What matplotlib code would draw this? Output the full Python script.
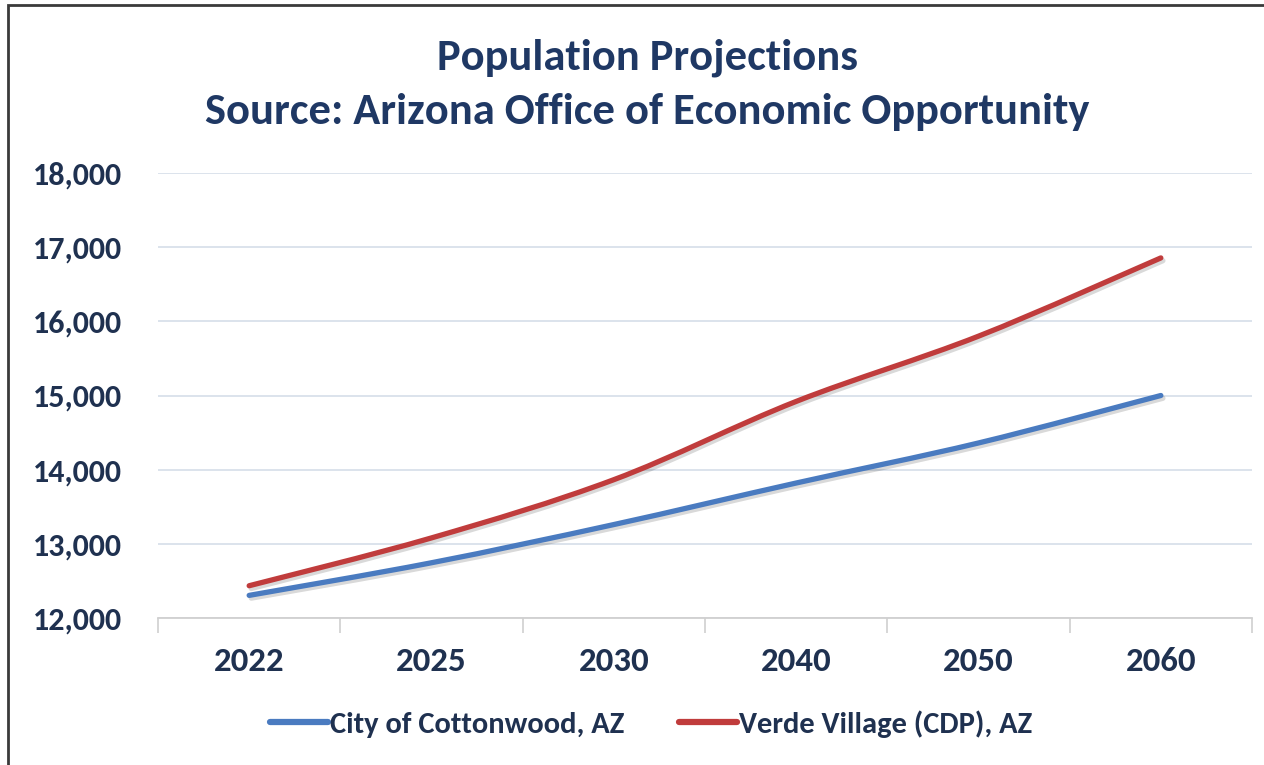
import numpy as np
import matplotlib
matplotlib.use("Agg")
import matplotlib.pyplot as plt
import matplotlib.patheffects as pe
from matplotlib.path import Path
from matplotlib.patches import PathPatch, Rectangle
from matplotlib.lines import Line2D
from matplotlib.ticker import FuncFormatter, FixedLocator

# data
years = ["2022", "2025", "2030", "2040", "2050", "2060"]
cottonwood = [12305, 12745, 13260, 13820, 14360, 15000]
verde = [12435, 13080, 13865, 14920, 15800, 16855]

series_names = ["City of Cottonwood, AZ", "Verde Village (CDP), AZ"]
series_colors = ["#4A7BC0", "#C03C3C"]

title_lines = ["Population Projections", "Source: Arizona Office of Economic Opportunity"]

FONT = "Carlito"
NAVY = "#1F3864"
TXT = "#1F3150"

plt.rcParams["font.family"] = [FONT, "DejaVu Sans"]
plt.rcParams["font.weight"] = "bold"


def smooth_path(xs, ys):
    # excel-style smoothed line: cubic bezier through the points (catmull-rom)
    pts = np.column_stack([xs, ys]).astype(float)
    n = len(pts)
    verts = [pts[0]]
    codes = [Path.MOVETO]
    for i in range(n - 1):
        p0 = pts[i - 1] if i > 0 else pts[i]
        p1 = pts[i]
        p2 = pts[i + 1]
        p3 = pts[i + 2] if i + 2 < n else pts[i + 1]
        c1 = p1 + (p2 - p0) / 6.0
        c2 = p2 - (p3 - p1) / 6.0
        verts += [c1, c2, p2]
        codes += [Path.CURVE4] * 3
    return Path(verts, codes)


fig = plt.figure(figsize=(12.64, 7.65), dpi=100)
ax = fig.add_axes([158 / 1264, 1 - 618 / 765, (1252 - 158) / 1264, (618 - 173) / 765])

x = np.arange(len(years))
for vals, col in zip([cottonwood, verde], series_colors):
    patch = PathPatch(smooth_path(x, vals), fill=False, edgecolor=col, lw=3.8,
                      capstyle="round", joinstyle="round", zorder=3,
                      path_effects=[pe.SimpleLineShadow(offset=(1.5, -2), shadow_color="k", alpha=0.15),
                                    pe.Normal()])
    ax.add_patch(patch)

ax.set_xlim(-0.5, len(years) - 0.5)
ax.set_ylim(12000, 18000)
ax.set_yticks(np.arange(12000, 18001, 1000))
ax.yaxis.set_major_formatter(FuncFormatter(lambda v, p: f"{int(v):,}"))
ax.grid(axis="y", color="#D9E0EA", lw=1.3)
ax.set_axisbelow(True)

# categories labelled in the middle, ticks on the boundaries
ax.xaxis.set_major_locator(FixedLocator(np.arange(-0.5, len(years), 1.0)))
ax.xaxis.set_major_formatter(FuncFormatter(lambda v, p: ""))
ax.xaxis.set_minor_locator(FixedLocator(x))
ax.set_xticklabels(years, minor=True)
ax.tick_params(axis="x", which="major", length=11, width=1.2, color="#D0D0D0")
ax.tick_params(axis="x", which="minor", length=0, pad=21, labelsize=25, labelcolor=TXT)
ax.tick_params(axis="y", length=0, pad=26, labelsize=23, labelcolor=TXT)

for s in ["top", "right", "left"]:
    ax.spines[s].set_visible(False)
ax.spines["bottom"].set_color("#D0D0D0")
ax.spines["bottom"].set_linewidth(1.3)

fig.text(0.512, 1 - 58 / 765, title_lines[0], ha="center", va="center",
         fontsize=32, color=NAVY, fontweight="bold")
fig.text(0.512, 1 - 112 / 765, title_lines[1], ha="center", va="center",
         fontsize=32, color=NAVY, fontweight="bold")

handles = [Line2D([], [], color=c, lw=4.5, solid_capstyle="round") for c in series_colors]
leg = fig.legend(handles, series_names, loc="center", bbox_to_anchor=(651 / 1264, 1 - 724 / 765),
                 ncol=2, frameon=False, fontsize=22, handlelength=1.9, handletextpad=0.05,
                 columnspacing=1.8, labelcolor=TXT)

# chart frame
fig.patches.append(Rectangle((8 / 1264, -0.05), 1.2, 1 - 5 / 765 + 0.05, transform=fig.transFigure,
                             fill=False, edgecolor="#3A3A3A", lw=2))

fig.savefig("out.png", dpi=100)
